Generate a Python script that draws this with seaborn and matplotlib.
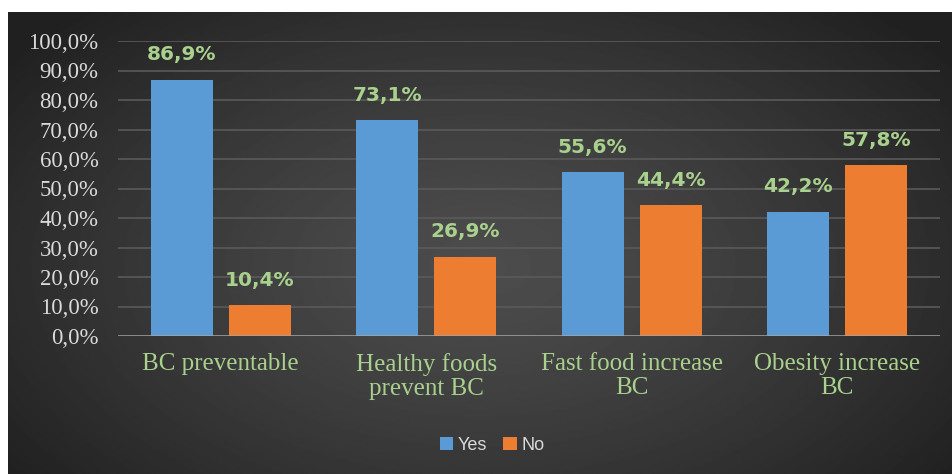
import numpy as np
import pandas as pd
import matplotlib
matplotlib.use("Agg")
import matplotlib.pyplot as plt
import seaborn as sns

categories = ["BC preventable", "Healthy foods\nprevent BC", "Fast food increase\nBC", "Obesity increase\nBC"]
yes_values = [86.9, 73.1, 55.6, 42.2]
no_values = [10.4, 26.9, 44.4, 57.8]
series_names = ["Yes", "No"]
y_ticks = [0, 10, 20, 30, 40, 50, 60, 70, 80, 90, 100]
y_tick_labels = ["0,0%", "10,0%", "20,0%", "30,0%", "40,0%", "50,0%", "60,0%", "70,0%", "80,0%", "90,0%", "100,0%"]

BLUE = "#5B9BD5"
ORANGE = "#ED7D31"
GREEN = "#A9D18E"
TICKCOL = "#D9D9D9"

df = pd.DataFrame({
    "category": categories * 2,
    "value": yes_values + no_values,
    "answer": [series_names[0]] * len(categories) + [series_names[1]] * len(categories),
})

sns.set_theme(style="white")
W, H = 953, 474
fig = plt.figure(figsize=(W / 100, H / 100), dpi=100, facecolor="white")

# dark radial gradient panel
bg = fig.add_axes([8 / W, 0, 1 - 8 / W, 1 - 12 / H])
bg.set_axis_off()
yy, xx = np.mgrid[0:1:300j, 0:1:600j]
r = np.sqrt(((xx - 0.5) / 0.62) ** 2 + ((yy - 0.55) / 0.75) ** 2)
r = np.clip(r, 0, 1)
c0, c1 = 0.30, 0.13
img = c0 + (c1 - c0) * r ** 1.3
bg.imshow(img, cmap="gray", vmin=0, vmax=1, aspect="auto", extent=[0, 1, 0, 1], interpolation="bilinear")
bg.set_zorder(-5)

ax = fig.add_axes([118 / W, 1 - 336 / H, (940 - 118) / W, (336 - 41) / H])
ax.patch.set_alpha(0)

sns.barplot(data=df, x="category", y="value", hue="answer", palette=[BLUE, ORANGE],
            width=0.76, gap=0.205, ax=ax, saturation=1, edgecolor="none", zorder=3)

handles, labels = ax.get_legend_handles_labels()
if ax.get_legend() is not None:
    ax.get_legend().remove()

for cont, vals in zip(ax.containers, [yes_values, no_values]):
    ax.bar_label(cont, labels=[f"{v:.1f}%".replace(".", ",") for v in vals], padding=11,
                 color=GREEN, fontsize=14.5, fontweight="bold", family="DejaVu Sans", clip_on=False)

ax.set_ylim(0, 100)
ax.set_yticks(y_ticks)
ax.set_yticklabels(y_tick_labels, family="Liberation Serif", fontsize=16.5, color=TICKCOL)
ax.set_xticks(range(len(categories)))
ax.set_xticklabels(categories, family="Liberation Serif", fontsize=18, color=GREEN, linespacing=1.15)
ax.tick_params(axis="y", length=0, pad=14)
ax.tick_params(axis="x", length=0, pad=12)
ax.set_xlabel("")
ax.set_ylabel("")
ax.set_xlim(-0.5, len(categories) - 0.5)

for t in y_ticks[1:]:
    ax.axhline(t, color="#5A5A5A", lw=1.2, zorder=1)
ax.axhline(0, color="#A6A6A6", lw=1.8, zorder=4)
for s in ax.spines.values():
    s.set_visible(False)

fig.legend(handles, labels, loc="center", bbox_to_anchor=(492 / W, 1 - 445 / H), ncol=2,
           frameon=False, handlelength=0.75, handleheight=0.75, handletextpad=0.25,
           columnspacing=0.9, prop={"family": "Liberation Sans", "size": 13}, labelcolor=TICKCOL)

fig.savefig("out.png", dpi=100, facecolor="white")
